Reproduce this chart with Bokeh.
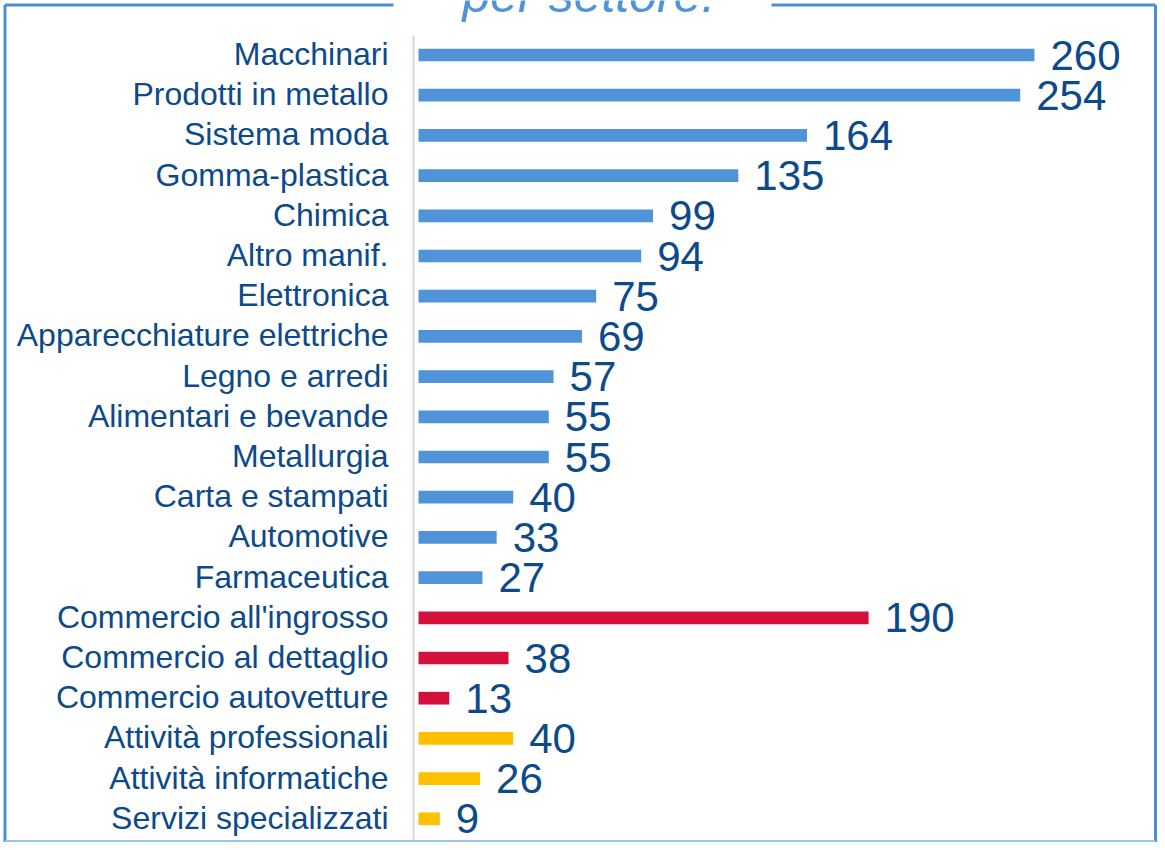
from bokeh.plotting import figure
from bokeh.models import Range1d, ColumnDataSource
from bokeh.core.properties import value
from bokeh.embed import file_html
from bokeh.resources import INLINE

# ---- data ----
categories = ["Macchinari", "Prodotti in metallo", "Sistema moda", "Gomma-plastica",
              "Chimica", "Altro manif.", "Elettronica", "Apparecchiature elettriche",
              "Legno e arredi", "Alimentari e bevande", "Metallurgia", "Carta e stampati",
              "Automotive", "Farmaceutica", "Commercio all'ingrosso",
              "Commercio al dettaglio", "Commercio autovetture",
              "Attività professionali", "Attività informatiche", "Servizi specializzati"]
values = [260, 254, 164, 135, 99, 94, 75, 69, 57, 55, 55, 40, 33, 27, 190, 38, 13, 40, 26, 9]
groups = ["manif"] * 14 + ["commercio"] * 3 + ["servizi"] * 3
title_text = "per settore."

group_colors = {"manif": "#5093D9", "commercio": "#D4103C", "servizi": "#FFC000"}
TEXT = "#0C4A8A"
FONT = "Liberation Sans"

# ---- layout (pixels) ----
W, H = 1157, 842
X0_PX = 418.0            # x pixel of value 0
KX = 2.369               # px per unit
Y0_PX = 54.5             # y pixel of first row
KY = 40.2                # px per row

def px2x(px):
    return (px - X0_PX) / KX

def py2y(py):
    return (py - Y0_PX) / KY

p = figure(width=W, height=H, output_backend="svg", toolbar_location=None,
           x_range=Range1d(px2x(0), px2x(W)),
           y_range=Range1d(py2y(H), py2y(0)),
           min_border=0, outline_line_color=None, background_fill_color="white",
           border_fill_color="white")
p.xaxis.visible = False
p.yaxis.visible = False
p.xgrid.visible = False
p.ygrid.visible = False

idx = list(range(len(categories)))
src = ColumnDataSource(dict(y=idx, v=values, cat=categories,
                            color=[group_colors[g] for g in groups],
                            lbl=[str(v) for v in values], zero=[0] * len(values)))

# axis line
p.segment(x0=[px2x(413)], x1=[px2x(413)], y0=[py2y(35)], y1=[py2y(842)],
          line_color="#D9D9D9", line_width=2)

# bars
p.hbar(y="y", left="zero", right="v", height=0.315, fill_color="color",
       line_color=None, source=src)

# category labels
p.text(x="zero", y="y", text="cat", source=src, x_offset=-30, y_offset=-1,
       text_align="right", text_baseline="middle", text_font=value(FONT),
       text_font_size="32px", text_color=TEXT)

# value labels
p.text(x="v", y="y", text="lbl", source=src, x_offset=16, y_offset=0,
       text_align="left", text_baseline="middle", text_font=value(FONT),
       text_font_size="42px", text_color=TEXT)

# frame border
BLUE = "#4A8FD8"
p.segment(x0=[px2x(4.5), px2x(1155), px2x(4.5)],
          x1=[px2x(1155), px2x(1155), px2x(4.5)],
          y0=[py2y(4.5), py2y(4.5), py2y(4.5)],
          y1=[py2y(4.5), py2y(842), py2y(842)],
          line_color=BLUE, line_width=3)
p.segment(x0=[px2x(4.5)], x1=[px2x(1155)], y0=[py2y(840.5)], y1=[py2y(840.5)],
          line_color="#9DC3E6", line_width=2)

# title box
p.quad(left=[px2x(393)], right=[px2x(771)], top=[py2y(-2)], bottom=[py2y(33)],
       fill_color="white", line_color=None)
p.text(x=[px2x(462)], y=[py2y(-6)], text=[title_text], text_align="left",
       text_baseline="middle", text_font=value(FONT), text_font_style="italic",
       text_font_size="50px", text_color="#4F93D8")

open("out.html", "w").write(file_html(p, INLINE))
